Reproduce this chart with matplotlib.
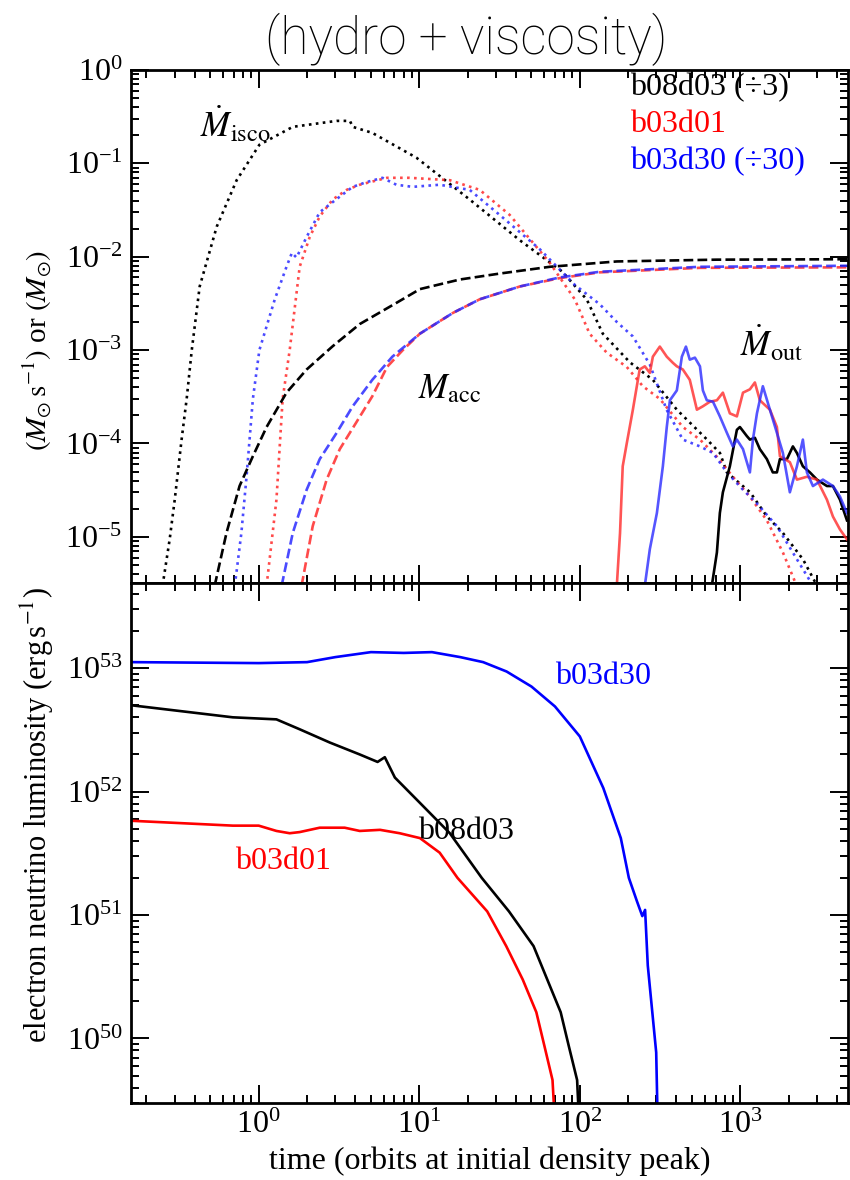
import numpy as np
import matplotlib
matplotlib.use("Agg")
import matplotlib.pyplot as plt
from matplotlib.ticker import LogLocator, NullFormatter

plt.rcParams['font.family'] = ['Liberation Serif', 'DejaVu Serif']
plt.rcParams['mathtext.fontset'] = 'stix'

# ---- top panel: accretion rate at ISCO (dotted) ----
t_isco_b08 = [0.252, 0.279, 0.300, 0.331, 0.356, 0.383, 0.429, 0.548, 0.729, 1.01, 1.63, 3.06, 3.7, 3.85,
              5.1, 9.6, 20.6, 42.3, 78, 110.6, 139, 205, 285, 402, 620, 746, 824, 1150, 1460, 1840, 2460, 3000]
m_isco_b08 = [3.0e-6, 9.4e-6, 2.5e-5, 1.1e-4, 3.0e-4, 1.0e-3, 4.8e-3, 0.021, 0.066, 0.158, 0.246, 0.285, 0.285, 0.246,
              0.212, 0.115, 0.041, 0.015, 6.9e-3, 3.47e-3, 1.5e-3, 7.4e-4, 4.8e-4, 2.3e-4, 1.1e-4, 7.9e-5, 4.9e-5,
              3.0e-5, 1.66e-5, 1.1e-5, 5.7e-6, 3.0e-6]

t_isco_b03d01 = [1.12, 1.29, 1.41, 1.56, 1.80, 2.08, 2.40, 2.89, 3.53, 4.26, 6.3, 8.7, 15.5, 23.8, 36.6, 65, 93,
                 115, 147, 196, 247, 315, 438, 560, 714, 898, 1146, 1462, 1840, 2240]
m_isco_b03d01 = [3.0e-6, 2.5e-5, 3.0e-4, 1.0e-3, 7.8e-3, 0.0163, 0.027, 0.041, 0.052, 0.059, 0.070, 0.070, 0.066,
                 0.052, 0.028, 8.6e-3, 3.5e-3, 1.5e-3, 9.4e-4, 6.6e-4, 4.1e-4, 3.0e-4, 1.5e-4, 1.1e-4, 7.2e-5,
                 4.4e-5, 2.7e-5, 1.5e-5, 6.8e-6, 3.0e-6]

t_isco_b03d30 = [0.71, 0.78, 0.84, 0.92, 1.01, 1.26, 1.49, 1.61, 1.72, 1.99, 2.40, 3.2, 3.85, 4.7, 5.9, 7.2, 9.1,
                 13.4, 20.6, 31.7, 56.4, 93, 133, 170, 214, 273, 347, 438, 560, 676, 824, 1038, 1260, 1690, 2120, 2830]
m_isco_b03d30 = [3.0e-6, 1.1e-5, 4.4e-5, 3.0e-4, 1.0e-3, 3.5e-3, 7.8e-3, 0.011, 0.0098, 0.0163, 0.030, 0.044, 0.056,
                 0.063, 0.070, 0.059, 0.056, 0.059, 0.052, 0.028, 0.012, 5.0e-3, 3.1e-3, 2.0e-3, 1.4e-3, 7.0e-4,
                 2.3e-4, 1.1e-4, 9.3e-5, 7.9e-5, 4.9e-5, 3.2e-5, 2.3e-5, 1.3e-5, 6.8e-6, 3.0e-6]

# ---- top panel: accreted mass (dashed) ----
t_acc_b08 = [0.532, 0.63, 0.76, 0.92, 1.12, 1.49, 1.99, 2.89, 4.26, 7.2, 10.1, 17.9, 31.7, 65, 170, 710, 4700]
m_acc_b08 = [3.0e-6, 1.1e-5, 3.5e-5, 7.3e-5, 1.5e-4, 3.5e-4, 6.2e-4, 1.1e-3, 1.9e-3, 3.2e-3, 4.5e-3, 5.7e-3,
             6.6e-3, 7.8e-3, 8.9e-3, 9.3e-3, 9.4e-3]

t_acc_b03d30 = [1.39, 1.63, 1.99, 2.40, 3.06, 3.85, 5.1, 6.8, 10.1, 16.2, 23.8, 42.3, 75, 133, 560, 4700]
m_acc_b03d30 = [3.0e-6, 1.1e-5, 3.2e-5, 6.8e-5, 1.3e-4, 2.5e-4, 4.8e-4, 8.5e-4, 1.5e-3, 2.5e-3, 3.5e-3, 4.8e-3,
                6.0e-3, 6.9e-3, 7.8e-3, 8.0e-3]

t_acc_b03d01 = [1.85, 2.17, 2.65, 3.2, 4.07, 5.1, 6.3, 7.9, 10.1, 16.2, 23.8, 42.3, 75, 133, 560, 4700]
m_acc_b03d01 = [3.0e-6, 1.3e-5, 4.1e-5, 8.7e-5, 1.7e-4, 3.2e-4, 6.6e-4, 1.0e-3, 1.5e-3, 2.5e-3, 3.5e-3, 4.8e-3,
                5.9e-3, 6.8e-3, 7.6e-3, 7.7e-3]

# ---- top panel: outflow rate (solid) ----
t_out_b03d01 = [170, 178, 185, 196, 214, 230, 236, 254, 273, 285, 315, 348, 380, 402, 438, 484, 536, 584, 646, 714,
                778, 860, 951, 1038, 1146, 1231, 1322, 1527, 1688, 1763, 2033, 2250, 2596, 2998, 3459, 3770, 4170, 4610]
m_out_b03d01 = [3.0e-6, 1.1e-5, 5.7e-5, 1.0e-4, 2.3e-4, 4.8e-4, 6.2e-4, 6.7e-4, 5.7e-4, 8.5e-4, 1.09e-3, 8.5e-4,
                7.3e-4, 6.7e-4, 6.2e-4, 4.8e-4, 2.3e-4, 2.5e-4, 2.8e-4, 2.9e-4, 3.5e-4, 2.1e-4, 1.95e-4, 3.5e-4,
                3.8e-4, 4.5e-4, 2.9e-4, 2.3e-4, 1.5e-4, 7.3e-5, 6.3e-5, 4.1e-5, 4.4e-5, 4.1e-5, 2.5e-5, 1.65e-5,
                1.2e-5, 9.4e-6]

t_out_b03d30 = [254, 273, 302, 329, 348, 364, 402, 432, 458, 484, 521, 560, 584, 618, 675, 745, 824, 898, 951, 1038,
                1146, 1197, 1268, 1380, 1527, 1688, 1840, 2033, 2250, 2450, 2596, 2830, 3266, 3770, 4170, 4610]
m_out_b03d30 = [3.0e-6, 7.4e-6, 1.8e-5, 5.7e-5, 1.5e-4, 2.9e-4, 3.7e-4, 8.5e-4, 1.09e-3, 7.9e-4, 8.3e-4, 6.7e-4,
                3.7e-4, 2.9e-4, 2.8e-4, 1.95e-4, 1.3e-4, 9.3e-5, 1.1e-4, 8.7e-5, 4.9e-5, 1.1e-4, 2.1e-4, 4.1e-4,
                2.3e-4, 1.3e-4, 7.9e-5, 3.0e-5, 5.7e-5, 1.1e-4, 4.9e-5, 3.5e-5, 4.1e-5, 3.5e-5, 2.7e-5, 1.8e-5]

t_out_b08 = [664, 714, 745, 778, 860, 951, 993, 1097, 1146, 1231, 1322, 1462, 1592, 1688, 1763, 1950, 2123, 2250,
             2450, 2710, 2998, 3459, 3770, 4170, 4610]
m_out_b08 = [3.0e-6, 6.8e-6, 1.8e-5, 3.0e-5, 5.7e-5, 1.4e-4, 1.5e-4, 1.2e-4, 1.1e-4, 1.15e-4, 8.7e-5, 6.8e-5,
             4.9e-5, 4.9e-5, 6.8e-5, 6.8e-5, 9.3e-5, 7.9e-5, 5.7e-5, 4.9e-5, 4.1e-5, 3.5e-5, 3.5e-5, 2.5e-5, 1.5e-5]

# ---- bottom panel: electron neutrino luminosity ----
t_lum_b03d30 = [0.163, 1.0, 2.0, 3.0, 5.0, 8.0, 12.0, 18.0, 25.0, 35.0, 50.0, 70.0, 100.0, 140.0, 180.0, 202.0,
                227.0, 245.0, 255.0, 265.0, 299.0, 309.0]
l_lum_b03d30 = [1.12e53, 1.10e53, 1.12e53, 1.23e53, 1.35e53, 1.33e53, 1.35e53, 1.23e53, 1.12e53, 9.4e52, 7.1e52,
                4.9e52, 2.8e52, 1.07e52, 4.2e51, 2.0e51, 1.29e51, 9.8e50, 1.1e51, 3.9e50, 7.7e49, 1.0e49]

t_lum_b08 = [0.163, 0.69, 1.29, 1.8, 2.77, 4.26, 5.5, 6.1, 7.05, 10.1, 15.5, 24.5, 36.2, 51.5, 62.7, 76.0, 85.5,
             96.2, 101.6]
l_lum_b08 = [5.0e52, 4.0e52, 3.85e52, 3.2e52, 2.5e52, 2.0e52, 1.74e52, 1.9e52, 1.3e52, 8.1e51, 4.6e51, 2.0e51,
             1.07e51, 5.6e50, 3.0e50, 1.63e50, 8.6e49, 4.6e49, 1.0e49]

t_lum_b03d01 = [0.163, 0.69, 1.0, 1.29, 1.56, 1.8, 2.4, 3.43, 4.26, 5.7, 7.55, 10.1, 13.4, 17.3, 26.5, 34.8, 44.1,
                53.6, 60.3, 67.6, 72.1]
l_lum_b03d01 = [5.8e51, 5.3e51, 5.3e51, 4.8e51, 4.6e51, 4.7e51, 5.1e51, 5.1e51, 4.8e51, 4.9e51, 4.6e51, 4.2e51,
                3.2e51, 2.0e51, 1.07e51, 5.6e50, 3.0e50, 1.63e50, 8.6e49, 4.6e49, 1.0e49]

RED_T = '#ff2a2a'
BLUE_T = '#2a2aff'

fig = plt.figure(figsize=(8.5, 11.8), dpi=100)
ax1 = fig.add_axes([0.154, 0.5059, 0.844, 0.4348])
ax2 = fig.add_axes([0.154, 0.0653, 0.844, 0.4406], sharex=ax1)

lw = 1.9
# dotted: Mdot at ISCO
ax1.plot(t_isco_b08, m_isco_b08, ':', color='black', lw=lw)
ax1.plot(t_isco_b03d01, m_isco_b03d01, ':', color=RED_T, lw=lw, alpha=0.85)
ax1.plot(t_isco_b03d30, m_isco_b03d30, ':', color=BLUE_T, lw=lw, alpha=0.85)
# dashed: accreted mass
ax1.plot(t_acc_b08, m_acc_b08, '--', color='black', lw=lw)
ax1.plot(t_acc_b03d01, m_acc_b03d01, '--', color=RED_T, lw=lw, alpha=0.85)
ax1.plot(t_acc_b03d30, m_acc_b03d30, '--', color=BLUE_T, lw=lw, alpha=0.85)
# solid: outflow rate
ax1.plot(t_out_b08, m_out_b08, '-', color='black', lw=lw)
ax1.plot(t_out_b03d01, m_out_b03d01, '-', color=RED_T, lw=lw, alpha=0.8)
ax1.plot(t_out_b03d30, m_out_b03d30, '-', color=BLUE_T, lw=lw, alpha=0.8)

ax2.plot(t_lum_b03d30, l_lum_b03d30, '-', color='blue', lw=lw)
ax2.plot(t_lum_b08, l_lum_b08, '-', color='black', lw=lw)
ax2.plot(t_lum_b03d01, l_lum_b03d01, '-', color='red', lw=lw)

for ax in (ax1, ax2):
    ax.set_xscale('log')
    ax.set_yscale('log')
    ax.tick_params(which='both', direction='in', top=True, right=True, width=1.4, labelsize=23, pad=6)
    ax.tick_params(which='major', length=13)
    ax.tick_params(which='minor', length=6)
    ax.xaxis.set_minor_locator(LogLocator(base=10, subs=np.arange(2, 10), numticks=20))
    ax.yaxis.set_minor_locator(LogLocator(base=10, subs=np.arange(2, 10), numticks=20))
    ax.yaxis.set_minor_formatter(NullFormatter())
    ax.xaxis.set_minor_formatter(NullFormatter())
    for s in ax.spines.values():
        s.set_linewidth(2.0)

ax1.set_xlim(0.16, 4700)
ax1.set_ylim(3.2e-6, 1.0)
ax2.set_ylim(3.0e49, 4.9e53)
ax1.tick_params(labelbottom=False)

ax1.set_ylabel(r'$(M_{\odot}\,\mathrm{s}^{-1})$ or $(M_{\odot})$', fontsize=21)
ax2.set_ylabel(r'electron neutrino luminosity (erg$\,$s$^{-1}$)', fontsize=22)
ax2.set_xlabel('time (orbits at initial density peak)', fontsize=23)
ax1.yaxis.set_label_coords(-0.107, 0.454)
ax2.yaxis.set_label_coords(-0.105, 0.554)

# annotations in the top panel
ax1.text(0.72, 0.258, r'$\dot{M}_{\rm isco}$', fontsize=25, ha='center', va='center')
ax1.text(15.5, 3.8e-4, r'$M_{\rm acc}$', fontsize=25, ha='center', va='center')
ax1.text(1570, 1.15e-3, r'$\dot{M}_{\rm out}$', fontsize=25, ha='center', va='center')
ax1.text(0.696, 0.965, 'b08d03 (÷3)', color='black', fontsize=23, transform=ax1.transAxes, va='center')
ax1.text(0.696, 0.893, 'b03d01', color='red', fontsize=23, transform=ax1.transAxes, va='center')
ax1.text(0.696, 0.821, 'b03d30 (÷30)', color='blue', fontsize=23, transform=ax1.transAxes, va='center')

# labels in the bottom panel
ax2.text(0.591, 0.82, 'b03d30', color='blue', fontsize=23, transform=ax2.transAxes, va='center')
ax2.text(0.40, 0.523, 'b08d03', color='black', fontsize=23, transform=ax2.transAxes, va='center')
ax2.text(0.145, 0.465, 'b03d01', color='red', fontsize=23, transform=ax2.transAxes, va='center')

fig.text(0.548, 0.967, '(hydro + viscosity)', fontsize=37, ha='center', va='center',
         family=['Roboto', 'DejaVu Sans'], weight='light')

fig.savefig('out.png', dpi=100)
